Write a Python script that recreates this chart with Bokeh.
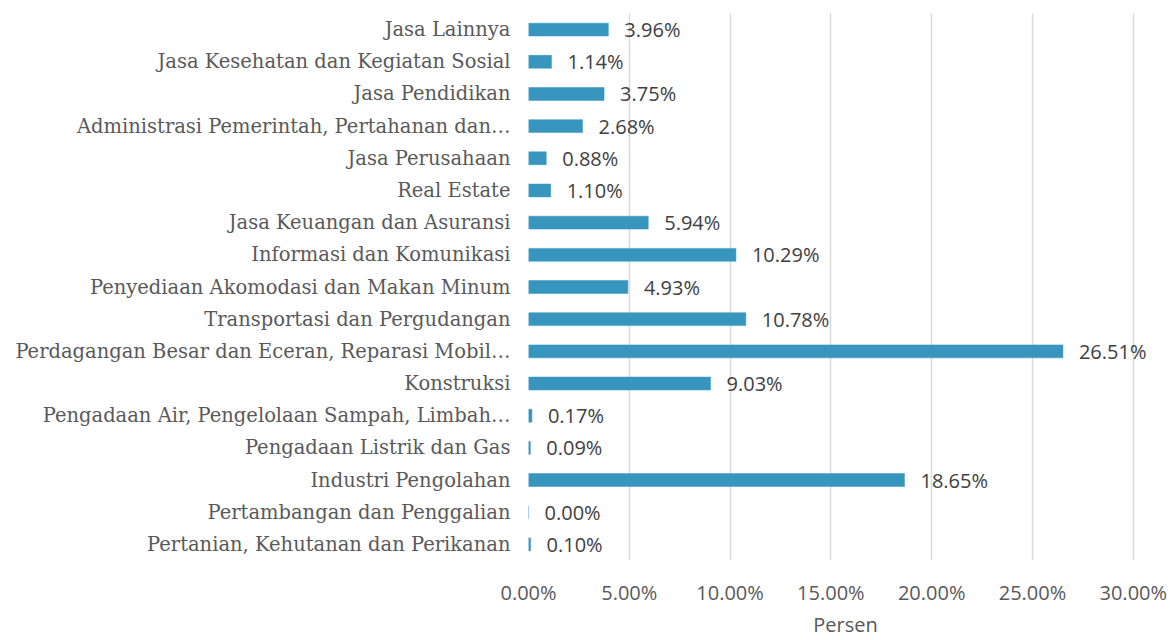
from bokeh.plotting import figure
from bokeh.models import ColumnDataSource, FactorRange, NumeralTickFormatter, FixedTicker
from bokeh.core.properties import value
from bokeh.embed import file_html
from bokeh.resources import INLINE

# top-to-bottom order as in the chart
categories = [
    "Jasa Lainnya",
    "Jasa Kesehatan dan Kegiatan Sosial",
    "Jasa Pendidikan",
    "Administrasi Pemerintah, Pertahanan dan\u2026",
    "Jasa Perusahaan",
    "Real Estate",
    "Jasa Keuangan dan Asuransi",
    "Informasi dan Komunikasi",
    "Penyediaan Akomodasi dan Makan Minum",
    "Transportasi dan Pergudangan",
    "Perdagangan Besar dan Eceran, Reparasi Mobil\u2026",
    "Konstruksi",
    "Pengadaan Air, Pengelolaan Sampah, Limbah\u2026",
    "Pengadaan Listrik dan Gas",
    "Industri Pengolahan",
    "Pertambangan dan Penggalian",
    "Pertanian, Kehutanan dan Perikanan",
]
values_pct = [3.96, 1.14, 3.75, 2.68, 0.88, 1.10, 5.94, 10.29, 4.93, 10.78,
              26.51, 9.03, 0.17, 0.09, 18.65, 0.00, 0.10]
x_ticks = [0.0, 0.05, 0.10, 0.15, 0.20, 0.25, 0.30]

cats_bottom_up = categories[::-1]
vals = [v / 100 for v in values_pct]
labels = ["%.2f%%" % v for v in values_pct]

src = ColumnDataSource(dict(cat=categories, val=vals, lab=labels))

p = figure(width=1170, height=640, y_range=FactorRange(*cats_bottom_up),
           x_range=(0, 0.3145), output_backend="svg", toolbar_location=None,
           min_border_left=528, min_border_right=8, min_border_top=13,
           min_border_bottom=80)
p.outline_line_color = None
p.background_fill_color = "white"

p.hbar(y="cat", right="val", left=0, height=0.4, source=src,
       fill_color="#3795BE", line_color="#3795BE", line_width=0.5)

p.text(x="val", y="cat", text="lab", source=src, x_offset=16,
       text_baseline="middle", text_align="left",
       text_font=value("Open Sans"), text_font_size="20px", text_color="#404040")

p.xgrid.grid_line_color = "#D9D9D9"
p.xgrid.grid_line_width = 1.5
p.ygrid.grid_line_color = None

p.xaxis.ticker = FixedTicker(ticks=x_ticks)
p.xaxis.formatter = NumeralTickFormatter(format="0.00%")
p.xaxis.axis_line_color = None
p.xaxis.major_tick_line_color = None
p.xaxis.minor_tick_line_color = None
p.xaxis.major_label_standoff = 12
p.xaxis.major_label_text_font = "Open Sans"
p.xaxis.major_label_text_font_size = "20px"
p.xaxis.major_label_text_color = "#595959"
p.xaxis.axis_label = "Persen"
p.xaxis.axis_label_text_font = "Open Sans"
p.xaxis.axis_label_text_font_size = "20px"
p.xaxis.axis_label_text_font_style = "normal"
p.xaxis.axis_label_text_color = "#595959"
p.xaxis.axis_label_standoff = 2

p.yaxis.axis_line_color = None
p.yaxis.major_tick_line_color = None
p.yaxis.minor_tick_line_color = None
p.yaxis.major_label_standoff = 12
p.yaxis.major_label_text_font = "DejaVu Serif"
p.yaxis.major_label_text_font_size = "19.5px"
p.yaxis.major_label_text_color = "#595959"

open("out.html", "w").write(file_html(p, INLINE))
